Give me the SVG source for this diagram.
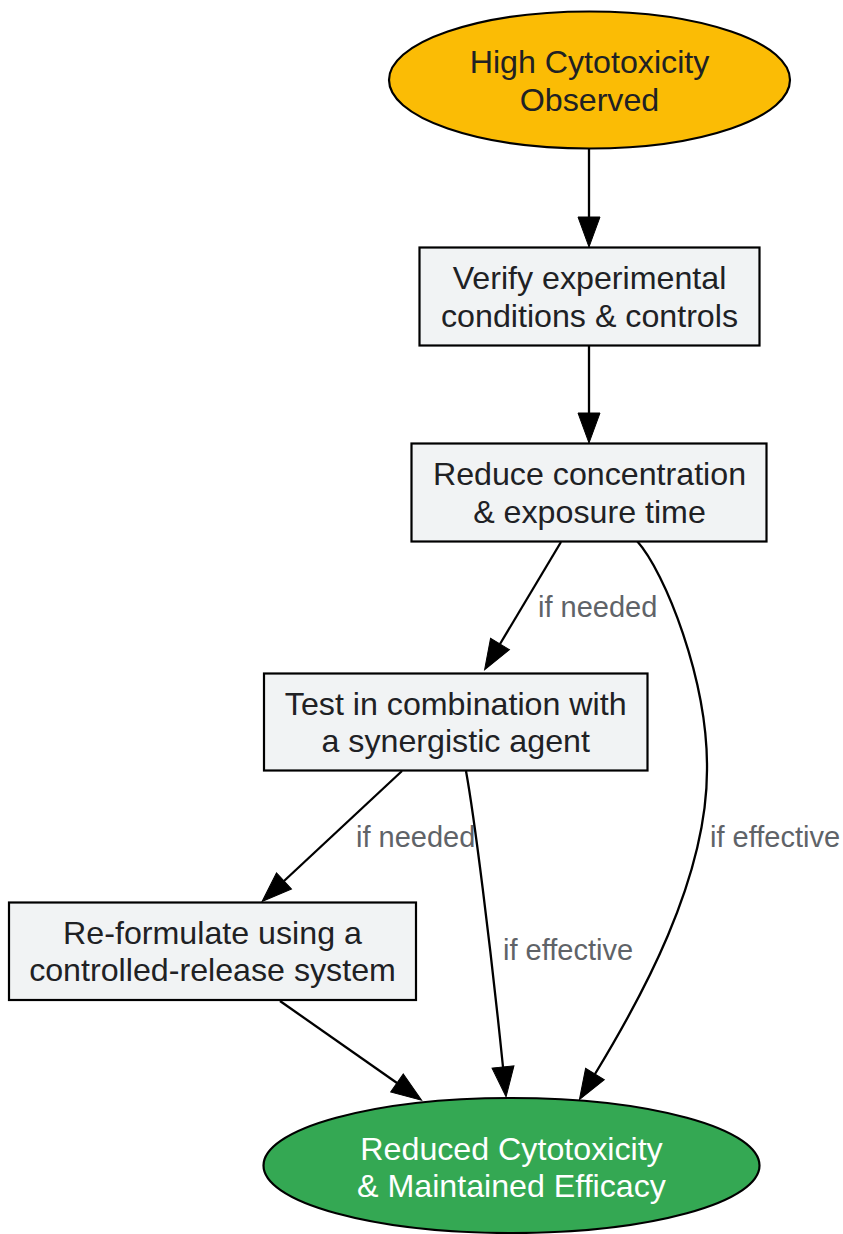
<svg xmlns="http://www.w3.org/2000/svg" width="843" height="1234" viewBox="0 0 843 1234">
<style>
.box{fill:#f1f3f4;stroke:#000;stroke-width:2.2}
.t{font-family:"Liberation Sans",Arial,sans-serif;font-size:32.2px;fill:#202124;text-anchor:middle}
.tw{fill:#ffffff}
.lbl{font-family:"Liberation Sans",Arial,sans-serif;font-size:29px;fill:#5f6368}
.edge{fill:none;stroke:#000;stroke-width:2.3}
</style>
<defs>
<marker id="arr" markerUnits="userSpaceOnUse" markerWidth="32" markerHeight="24" refX="0" refY="11" orient="auto" overflow="visible">
<path d="M0,0 L30,11 L0,22 Z" fill="#000" stroke="#000" stroke-width="1"/>
</marker>
</defs>
<rect width="843" height="1234" fill="#ffffff"/>
<g id="connectors">
<path class="edge" d="M589,149 L589,217" marker-end="url(#arr)"/>
<path class="edge" d="M589,346 L589,413" marker-end="url(#arr)"/>
<path class="edge" d="M561,542 L500,644" marker-end="url(#arr)"/>
<text class="lbl" x="538" y="617">if needed</text>
<path class="edge" d="M637,541 C665,572 708,680 707,770 C707,880 640,1000 595,1074" marker-end="url(#arr)"/>
<text class="lbl" x="710" y="847">if effective</text>
<path class="edge" d="M402,771 L284,881" marker-end="url(#arr)"/>
<text class="lbl" x="356" y="847">if needed</text>
<path class="edge" d="M466,771 C474,815 490,940 503,1067" marker-end="url(#arr)"/>
<text class="lbl" x="503" y="960">if effective</text>
<path class="edge" d="M280,1001 L397,1083" marker-end="url(#arr)"/>
</g>
<g id="n_start">
<ellipse cx="589.5" cy="80" rx="200.5" ry="68.5" fill="#fbbc05" stroke="#000" stroke-width="2.2"/>
<text class="t" x="589.5" y="73">High Cytotoxicity</text>
<text class="t" x="589.5" y="110.5">Observed</text>
</g>
<g id="n_verify">
<rect class="box" x="419.5" y="247.5" width="340" height="98"/>
<text class="t" x="589.5" y="289">Verify experimental</text>
<text class="t" x="589.5" y="326.5">conditions &amp; controls</text>
</g>
<g id="n_reduce">
<rect class="box" x="411.5" y="443.5" width="355" height="98"/>
<text class="t" x="589.5" y="485">Reduce concentration</text>
<text class="t" x="589.5" y="522.5">&amp; exposure time</text>
</g>
<g id="n_combo">
<rect class="box" x="264" y="673.5" width="383.5" height="97"/>
<text class="t" x="455.7" y="715">Test in combination with</text>
<text class="t" x="455.7" y="752">a synergistic agent</text>
</g>
<g id="n_reform">
<rect class="box" x="9" y="902.5" width="407" height="97.5"/>
<text class="t" x="212.5" y="943.5">Re-formulate using a</text>
<text class="t" x="212.5" y="981">controlled-release system</text>
</g>
<g id="n_end">
<ellipse cx="511.5" cy="1165.5" rx="248" ry="67.5" fill="#34a853" stroke="#000" stroke-width="2.2"/>
<text class="t tw" x="511.5" y="1160">Reduced Cytotoxicity</text>
<text class="t tw" x="511.5" y="1197">&amp; Maintained Efficacy</text>
</g>
</svg>
